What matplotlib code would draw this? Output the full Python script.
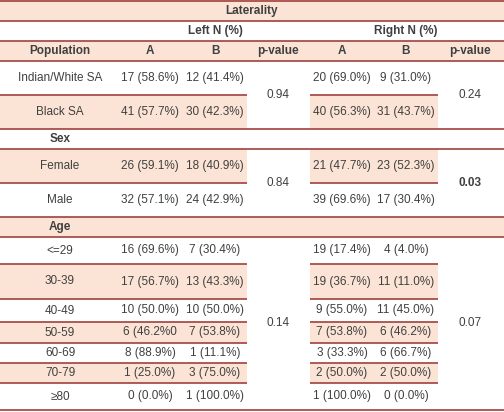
import matplotlib
matplotlib.use("Agg")
import matplotlib.pyplot as plt
from matplotlib.patches import Rectangle

groups = ["Indian/White SA", "Black SA", "Female", "Male", "<=29", "30-39", "40-49", "50-59", "60-69", "70-79", "≥80"]
left_a = ["17 (58.6%)", "41 (57.7%)", "26 (59.1%)", "32 (57.1%)", "16 (69.6%)", "17 (56.7%)", "10 (50.0%)", "6 (46.2%0", "8 (88.9%)", "1 (25.0%)", "0 (0.0%)"]
left_b = ["12 (41.4%)", "30 (42.3%)", "18 (40.9%)", "24 (42.9%)", "7 (30.4%)", "13 (43.3%)", "10 (50.0%)", "7 (53.8%)", "1 (11.1%)", "3 (75.0%)", "1 (100.0%)"]
right_a = ["20 (69.0%)", "40 (56.3%)", "21 (47.7%)", "39 (69.6%)", "19 (17.4%)", "19 (36.7%)", "9 (55.0%)", "7 (53.8%)", "3 (33.3%)", "2 (50.0%)", "1 (100.0%)"]
right_b = ["9 (31.0%)", "31 (43.7%)", "23 (52.3%)", "17 (30.4%)", "4 (4.0%)", "11 (11.0%)", "11 (45.0%)", "6 (46.2%)", "6 (66.7%)", "2 (50.0%)", "0 (0.0%)"]
sections = ["Population", "Sex", "Age"]
p_left = ["0.94", "0.84", "0.14"]
p_right = ["0.24", "0.03", "0.07"]

# layout (pixels)
row_y = [(61, 95), (95, 129), (149, 183), (183, 217), (237, 264), (264, 299), (299, 322), (322, 343), (343, 363), (363, 383), (383, 410)]
shaded = [False, True, True, False, False, True, False, True, False, True, False]
sec_rows = [(41, 61), (129, 149), (217, 237)]
sec_shaded = [True, False, True]
sec_members = [(0, 2), (2, 4), (4, 11)]
cx = [60, 150, 215, 278, 342, 406, 470]
SH = "#fbe4d5"; LC = "#a0413d"; TC = "#404040"
FONT = "Liberation Sans"; FS = 8.5

fig = plt.figure(figsize=(5.04, 4.12), dpi=100)
ax = fig.add_axes([0, 0, 1, 1])
ax.set_xlim(0, 504); ax.set_ylim(412, 0); ax.axis("off")

def hline(y, x0=0, x1=504):
    ax.plot([x0, x1], [y, y], color=LC, lw=1.2, solid_capstyle="butt")

def txt(x, y, s, bold=False):
    ax.text(x, y, s, ha="center", va="center", color=TC, fontsize=FS,
            fontfamily=[FONT, "DejaVu Sans"], fontweight="bold" if bold else "normal")

# header
ax.add_patch(Rectangle((0, 0), 504, 21, color=SH, lw=0))
ax.add_patch(Rectangle((0, 41), 504, 20, color=SH, lw=0))
txt(252, 10.5, "Laterality", True)
txt(215, 31, "Left N (%)", True)
txt(406, 31, "Right N (%)", True)
for x, s in zip(cx, ["Population", "A", "B", "p-value", "A", "B", "p-value"]):
    txt(x, 51, s, True)
for y in (1, 21, 41, 61):
    hline(y)

for i, (y0, y1) in enumerate(row_y):
    if shaded[i]:
        ax.add_patch(Rectangle((0, y0), 247, y1 - y0, color=SH, lw=0))
        ax.add_patch(Rectangle((310, y0), 128, y1 - y0, color=SH, lw=0))
    ym = (y0 + y1) / 2
    for x, s in zip(cx[:3] + cx[4:6], [groups[i], left_a[i], left_b[i], right_a[i], right_b[i]]):
        txt(x, ym, s)

for k, (y0, y1) in enumerate(sec_rows):
    if k > 0:
        if sec_shaded[k]:
            ax.add_patch(Rectangle((0, y0), 504, y1 - y0, color=SH, lw=0))
        txt(cx[0], (y0 + y1) / 2, sections[k], True)
        hline(y0); hline(y1)
    a, b = sec_members[k]
    ytop, ybot = row_y[a][0], row_y[b - 1][1]
    txt(cx[3], (ytop + ybot) / 2, p_left[k])
    txt(cx[6], (ytop + ybot) / 2, p_right[k], bold=(p_right[k] == "0.03"))
    for j in range(a, b - 1):
        y = row_y[j][1]
        hline(y, 0, 247); hline(y, 310, 438)
hline(410)

fig.savefig("out.png", dpi=100)
